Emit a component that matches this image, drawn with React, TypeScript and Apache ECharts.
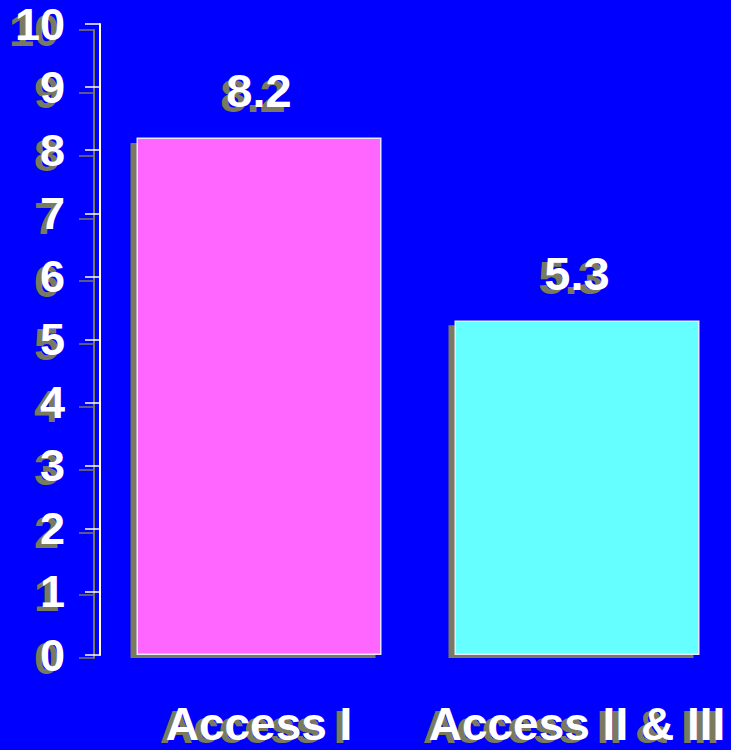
import React, { useEffect, useRef } from "react";
import * as echarts from "echarts";

const categories = ["Access I", "Access II & III"];
const values = [8.2, 5.3];
const barColors = ["#FF66FF", "#66FFFF"];
const yMin = 0;
const yMax = 10;
const yStep = 1;

const SHADOW = "#7a7a5e";
const FONT = "'Liberation Sans', Arial, sans-serif";

function axisPair(color: string, gridIndex: number, z: number) {
  return {
    x: {
      type: "category",
      gridIndex,
      data: categories,
      z,
      axisLine: { show: false },
      axisTick: { show: false },
      axisLabel: {
        color,
        fontSize: 46,
        fontWeight: "bold",
        fontFamily: FONT,
        margin: 46,
        interval: 0,
        hideOverlap: false,
      },
      splitLine: { show: false },
    },
    y: {
      type: "value",
      gridIndex,
      min: yMin,
      max: yMax,
      interval: yStep,
      z,
      axisLine: { show: true, lineStyle: { color, width: 2 } },
      axisTick: { show: true, length: 15, lineStyle: { color, width: 1.5 } },
      axisLabel: {
        color,
        fontSize: 45,
        fontWeight: "bold",
        fontFamily: FONT,
        margin: 35,
      },
      splitLine: { show: false },
    },
  };
}

export default function App() {
  const ref = useRef<HTMLDivElement>(null);
  useEffect(() => {
    if (!ref.current) return;
    const chart = echarts.init(ref.current, null, { renderer: "svg" });
    const sh = axisPair(SHADOW, 0, 0);
    const mn = axisPair("#ffffff", 1, 1);
    chart.setOption({
      animation: false,
      backgroundColor: "#0000FF",
      grid: [
        { left: 94, top: 30, width: 636, height: 631 },
        { left: 100, top: 24, width: 636, height: 631 },
      ],
      xAxis: [sh.x, mn.x],
      yAxis: [sh.y, mn.y],
      series: [
        {
          type: "bar",
          xAxisIndex: 0,
          yAxisIndex: 0,
          data: values,
          barWidth: 245,
          z: 1,
          itemStyle: { color: SHADOW },
          label: {
            show: true,
            position: "top",
            distance: 24,
            color: SHADOW,
            fontSize: 47,
            fontWeight: "bold",
            fontFamily: FONT,
          },
        },
        {
          type: "bar",
          xAxisIndex: 1,
          yAxisIndex: 1,
          data: values.map((v, i) => ({ value: v, itemStyle: { color: barColors[i] } })),
          barWidth: 245,
          z: 2,
          itemStyle: { borderColor: "#e8e8ff", borderWidth: 1.5 },
          label: {
            show: true,
            position: "top",
            distance: 24,
            color: "#ffffff",
            fontSize: 47,
            fontWeight: "bold",
            fontFamily: FONT,
          },
        },
      ],
    });
    return () => chart.dispose();
  }, []);
  return (
    <div
      style={{
        position: "absolute",
        left: 0,
        top: 0,
        width: 731,
        height: 750,
        overflow: "hidden",
        background: "#0000FF",
      }}
    >
      <div ref={ref} style={{ width: 800, height: 750 }} />
    </div>
  );
}
